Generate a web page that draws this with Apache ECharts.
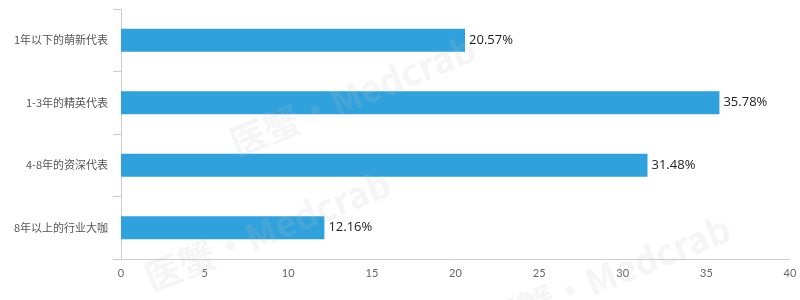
<!DOCTYPE html>
<html><head><meta charset="utf-8">
<script src="https://cdn.jsdelivr.net/npm/echarts@6/dist/echarts.min.js"></script>
<style>html,body{margin:0;padding:0;background:#fff}#c{width:800px;height:300px}</style>
</head><body><div id="c"></div>
<script>
const categories = ['1年以下的萌新代表','1-3年的精英代表','4-8年的资深代表','8年以上的行业大咖'];
const values = [20.57, 35.78, 31.48, 12.16];
const xTicks = [0, 5, 10, 15, 20, 25, 30, 35, 40];

const chart = echarts.init(document.getElementById('c'));
const wm = (x, y) => ({
  type: 'text', left: x, top: y, rotation: Math.PI * 22 / 180, z: 100,
  style: { text: '医蟹·Medcrab', fill: 'rgba(190,190,190,0.16)', font: 'bold 36px "Noto Sans CJK SC", sans-serif' }
});
chart.setOption({
  animation: false,
  grid: { left: 121, right: 10, top: 9, bottom: 41 },
  xAxis: {
    type: 'value', min: xTicks[0], max: xTicks[xTicks.length - 1], interval: 5,
    axisLine: { show: true, lineStyle: { color: '#ccc' } },
    axisTick: { show: false },
    splitLine: { show: false },
    axisLabel: { color: '#666', fontSize: 11, margin: 9, fontFamily: 'Lato, sans-serif' }
  },
  yAxis: {
    type: 'category', data: categories, inverse: true,
    axisLine: { show: true, lineStyle: { color: '#ccc' } },
    axisTick: { show: true, length: 8, lineStyle: { color: '#ccc' } },
    axisLabel: { color: '#555', fontSize: 11, margin: 13, fontFamily: '"Noto Sans CJK SC", sans-serif' }
  },
  series: [{
    type: 'bar', data: values, barWidth: 23,
    itemStyle: { color: '#2fa1dc' },
    label: { show: true, position: 'right', distance: 4, color: '#222', fontSize: 13,
      fontFamily: '"Open Sans", sans-serif', formatter: p => p.value.toFixed(2) + '%' }
  }],
  graphic: [wm(225, 30), wm(140, 165), wm(480, 210)]
});
</script></body></html>
